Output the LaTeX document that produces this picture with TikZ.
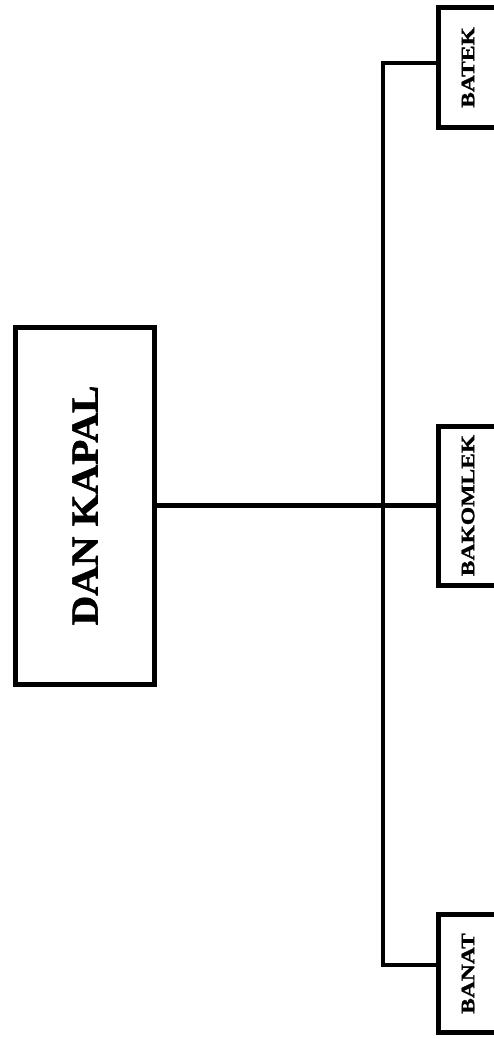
\documentclass[tikz,border=0pt]{standalone}
\usepackage{fontspec}
\newfontfamily\rootfont[FakeStretch=1.08, FakeBold=1.5]{Liberation Serif}
\newfontfamily\leaffont[FakeStretch=1.24, FakeBold=1.5]{Liberation Serif}
\usetikzlibrary{shadows}

\begin{document}
\begin{tikzpicture}[
    x=1pt, y=1pt,
    rootbox/.style={rectangle, draw, line width=5pt, fill=white, rotate=90,
                    minimum width=357pt, minimum height=139pt, inner sep=0pt,
                    drop shadow={shadow xshift=-2pt, shadow yshift=-2pt, opacity=0.3},
                    font=\rootfont\bfseries\fontsize{38}{38}\selectfont},
    leafbox/.style={rectangle, draw, line width=5pt, fill=white, rotate=90,
                    minimum height=59pt, inner sep=0pt,
                    drop shadow={shadow xshift=-2pt, shadow yshift=-2pt, opacity=0.3},
                    font=\leaffont\bfseries\fontsize{19}{19}\selectfont},
    link/.style={line width=4.5pt},
]
    \useasboundingbox (0,0) rectangle (493,-1039);

    \node[rootbox] (root) at (85,-505.5) {DAN KAPAL};

    \node[leafbox, minimum width=120pt] (batek) at (468,-67.5) {BATEK};
    \node[leafbox, minimum width=159pt] (bakomlek) at (468,-505.5) {BAKOMLEK};
    \node[leafbox, minimum width=118pt] (banat) at (468,-973.5) {BANAT};

    \coordinate (bus) at (383,-505.5);

    \draw[link] (root.south) -- (bakomlek.north);
    \draw[link] ([yshift=4.5pt]batek.north) -| (bus) |- ([yshift=8.5pt]banat.north);
\end{tikzpicture}
\end{document}
